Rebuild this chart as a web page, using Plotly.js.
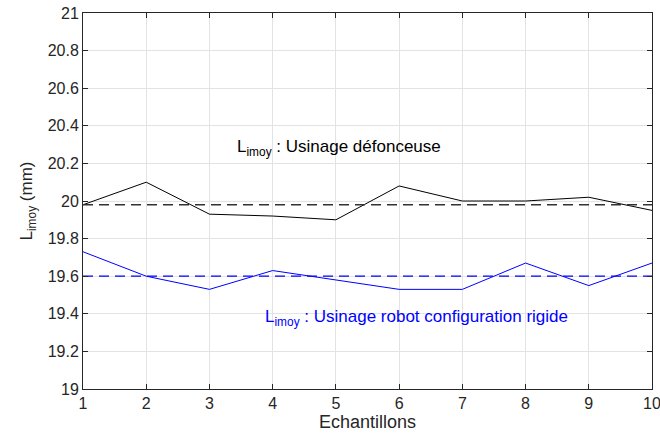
<!DOCTYPE html>
<html><head><meta charset="utf-8">
<script src="https://cdn.plot.ly/plotly-3.0.1.min.js"></script>
<style>html,body{margin:0;padding:0;background:#fff}#c{width:660px;height:434px}</style>
</head><body><div id="c"></div>
<script>
const samples = [1,2,3,4,5,6,7,8,9,10];
const defonceuse = [19.98,20.10,19.93,19.92,19.90,20.08,20.00,20.00,20.02,19.95];
const robot = [19.73,19.60,19.53,19.63,19.58,19.53,19.53,19.67,19.55,19.67];
const meanDefonceuse = 19.98;
const meanRobot = 19.60;
const yTicks = [19,19.2,19.4,19.6,19.8,20,20.2,20.4,20.6,20.8,21];
const yTickText = ['19','19.2','19.4','19.6','19.8','20','20.2','20.4','20.6','20.8','21'];

const font = "Liberation Sans, Arial, sans-serif";
const traces = [
  {x: samples, y: defonceuse, mode:'lines', line:{color:'#000', width:1}},
  {x: [samples[0], samples[samples.length-1]], y:[meanDefonceuse, meanDefonceuse], mode:'lines', line:{color:'#333', width:1.3, dash:'10px,6px'}},
  {x: samples, y: robot, mode:'lines', line:{color:'#0000ff', width:1}},
  {x: [samples[0], samples[samples.length-1]], y:[meanRobot, meanRobot], mode:'lines', line:{color:'#0000ff', width:1.3, dash:'10px,6px'}}
];
const layout = {
  width:660, height:434, showlegend:false,
  margin:{l:83, r:8, t:13, b:45},
  paper_bgcolor:'#fff', plot_bgcolor:'#fff',
  font:{family:font, size:16, color:'#262626'},
  xaxis:{range:[1,10], tickvals:samples, ticks:'inside', ticklen:5, tickcolor:'#262626',
    showline:true, linecolor:'#262626', linewidth:1, mirror:'ticks', zeroline:false,
    showgrid:true, gridcolor:'#e3e3e3', gridwidth:1, ticklabeloverflow:'allow',
    tickfont:{size:16, color:'#262626'},
    title:{text:'Echantillons', font:{size:18, color:'#262626'}, standoff:2}},
  yaxis:{range:[19,21], tickvals:yTicks, ticktext:yTickText, ticks:'inside', ticklen:5, tickcolor:'#262626',
    showline:true, linecolor:'#262626', linewidth:1, mirror:'ticks', zeroline:false,
    showgrid:true, gridcolor:'#e3e3e3', gridwidth:1, ticklabeloverflow:'allow',
    tickfont:{size:16, color:'#262626'},
    title:{text:'L<sub>imoy</sub> (mm)', font:{size:17, color:'#262626'}, standoff:10}},
  annotations:[
    {x:5.05, y:20.28, xref:'x', yref:'y', showarrow:false, text:'L<sub>imoy</sub> : Usinage défonceuse', font:{size:17, color:'#000'}},
    {x:6.28, y:19.38, xref:'x', yref:'y', showarrow:false, text:'L<sub>imoy</sub> : Usinage robot configuration rigide', font:{size:17, color:'#0000ff'}}
  ]
};
Plotly.newPlot('c', traces, layout, {staticPlot:true, displayModeBar:false});
</script></body></html>
